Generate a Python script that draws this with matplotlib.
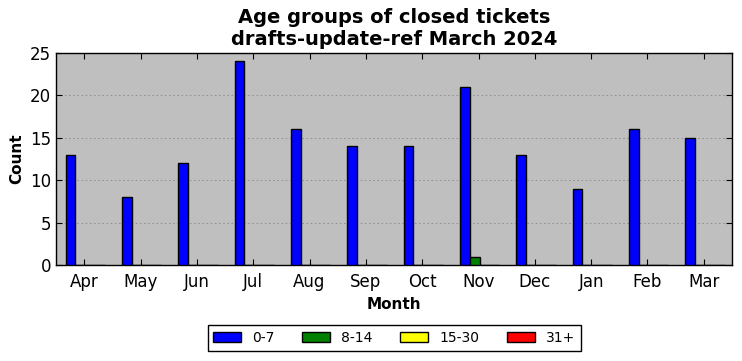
import matplotlib
matplotlib.use("Agg")
import matplotlib.pyplot as plt
import numpy as np

months = ["Apr", "May", "Jun", "Jul", "Aug", "Sep", "Oct", "Nov", "Dec", "Jan", "Feb", "Mar"]
labels = ["0-7", "8-14", "15-30", "31+"]
colors = ["blue", "green", "yellow", "red"]
s_0_7 = [13, 8, 12, 24, 16, 14, 14, 21, 13, 9, 16, 15]
s_8_14 = [0, 0, 0, 0, 0, 0, 0, 1, 0, 0, 0, 0]
s_15_30 = [0] * 12
s_31 = [0] * 12
series = [s_0_7, s_8_14, s_15_30, s_31]

fig = plt.figure(figsize=(7.42, 3.61), dpi=100)
ax = fig.add_axes([56/742, 1-265/361, 676/742, 212/361])
ax.set_facecolor("#bfbfbf")
x = np.arange(len(months))
w = 0.175
for i, (s, c, l) in enumerate(zip(series, colors, labels)):
    ax.bar(x + (i - 1.5) * w + 0.02, s, width=w, color=c, edgecolor="black", linewidth=1, label=l, zorder=3)

ax.set_xlim(-0.5, len(months) - 0.5)
ax.set_ylim(0, 25)
ax.set_yticks([0, 5, 10, 15, 20, 25])
ax.set_xticks(x)
ax.set_xticklabels(months)
ax.tick_params(axis="both", direction="in", top=True, right=True, labelsize=12, length=4)
ax.tick_params(axis="x", pad=6)
ax.yaxis.grid(True, linestyle=(0, (2, 3)), color="#8a8a8a", linewidth=0.6, zorder=0)
ax.set_axisbelow(True)
for sp in ax.spines.values():
    sp.set_linewidth(1)
ax.set_xlabel("Month", fontsize=11, fontweight="bold")
ax.set_ylabel("Count", fontsize=11, fontweight="bold")
ax.set_title("Age groups of closed tickets\ndrafts-update-ref March 2024", fontsize=14, fontweight="bold", pad=6)

fig.legend(loc="center", bbox_to_anchor=(394/742, 1-338/361), ncol=4, fontsize=10,
           frameon=True, fancybox=False, edgecolor="black", framealpha=1,
           handlelength=2.0, handleheight=0.7, columnspacing=2.0, borderpad=0.4)
fig.savefig("out.png", dpi=100)
